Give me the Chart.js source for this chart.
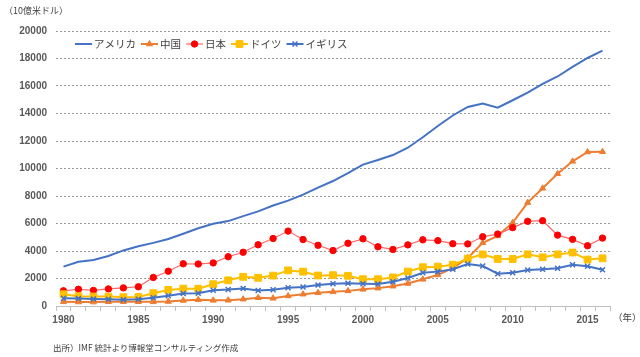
<!DOCTYPE html>
<html><head><meta charset="utf-8">
<script src="https://cdn.jsdelivr.net/npm/chart.js@4"></script>
<style>
html,body{margin:0;padding:0;background:#fff;}
#wrap{position:relative;width:640px;height:357px;overflow:hidden;}
canvas{position:absolute;left:0;top:0;}
.t{position:absolute;font-family:"Noto Sans CJK JP";color:#404040;white-space:nowrap;line-height:1;}
</style></head><body>
<div id="wrap">
<canvas id="c" width="640" height="357"></canvas>
<div class="t" style="left:4px;top:6px;font-size:9px;">（10億米ドル）</div>
<div class="t" style="left:613px;top:313px;font-size:9.5px;">（年）</div>
<div class="t" style="left:53px;top:343px;font-size:8.5px;">出所）IMF 統計より博報堂コンサルティング作成</div>
</div>
<script>
const years = [1980,1981,1982,1983,1984,1985,1986,1987,1988,1989,1990,1991,1992,1993,1994,1995,1996,1997,1998,1999,2000,2001,2002,2003,2004,2005,2006,2007,2008,2009,2010,2011,2012,2013,2014,2015,2016];
const seriesNames = ['アメリカ','中国','日本','ドイツ','イギリス'];
const usa = [2863,3211,3345,3638,4041,4347,4590,4870,5253,5658,5980,6174,6539,6879,7309,7664,8100,8609,9089,9661,10285,10622,10978,11511,12275,13094,13856,14478,14719,14419,14964,15518,16155,16692,17393,18037,18569];
const china = [305,290,284,306,314,310,301,327,407,456,410,420,495,600,560,735,860,960,1030,1100,1210,1300,1440,1640,1940,2260,2750,3500,4600,5100,6060,7520,8560,9620,10520,11200,11220];
const japan = [1105,1218,1134,1243,1318,1398,2078,2532,3072,3054,3133,3584,3909,4454,4907,5449,4834,4415,4033,4562,4887,4304,4115,4445,4815,4755,4530,4515,5037,5231,5700,6157,6203,5156,4848,4383,4939];
const germany = [854,709,689,685,641,655,933,1170,1263,1255,1585,1870,2124,2052,2211,2588,2497,2217,2243,2196,1950,1951,2079,2506,2820,2862,3002,3440,3752,3418,3417,3758,3544,3753,3890,3375,3467];
const uk = [565,540,515,489,461,489,601,745,910,926,1150,1200,1280,1130,1180,1330,1380,1520,1620,1650,1620,1600,1770,2040,2420,2500,2670,3050,2910,2350,2420,2620,2670,2740,3000,2890,2630];
const yTicksMax = 20000, yTickStep = 2000;

const floatLegend = {
  id: 'floatLegend',
  afterDraw(chart) {
    const ctx = chart.ctx;
    let x = 75; const y = 44;
    ctx.save();
    ctx.font = '10.5px "Noto Sans CJK JP"';
    ctx.textBaseline = 'middle';
    chart.data.datasets.forEach(ds => {
      ctx.setLineDash([]);
      ctx.strokeStyle = ds.borderColor;
      ctx.lineWidth = ds.borderWidth;
      ctx.beginPath(); ctx.moveTo(x, y); ctx.lineTo(x + 17, y); ctx.stroke();
      if (ds.pointRadius > 0 && Chart.helpers && Chart.helpers.drawPoint) {
        ctx.fillStyle = ds.pointBackgroundColor;
        ctx.strokeStyle = ds.pointBorderColor;
        ctx.lineWidth = ds.pointBorderWidth;
        Chart.helpers.drawPoint(ctx, {pointStyle: ds.pointStyle, radius: ds.pointRadius, borderWidth: ds.pointBorderWidth, rotation: 0}, x + 8.5, y);
      }
      x += 19;
      ctx.fillStyle = '#404040';
      ctx.fillText(ds.label, x, y + 0.5);
      x += ctx.measureText(ds.label).width + 5;
    });
    ctx.restore();
  }
};

function mk(label, data, color, lineColor, style, radius, bw, pbw, order) {
  return {label, data, borderColor: lineColor, backgroundColor: color, borderWidth: bw,
    pointStyle: style, pointRadius: radius, pointBackgroundColor: color, pointBorderColor: color,
    pointBorderWidth: pbw, tension: 0, fill: false, order};
}

new Chart(document.getElementById('c'), {
  type: 'line',
  data: {
    labels: years.map(String),
    datasets: [
      mk(seriesNames[0], usa, '#4472C4', '#4472C4', 'circle', 0, 2, 0, 5),
      mk(seriesNames[1], china, '#ED7D31', '#ED7D31', 'triangle', 3.5, 2, 1, 4),
      mk(seriesNames[2], japan, '#FF0000', '#FF6666', 'circle', 3.2, 1.2, 1, 3),
      mk(seriesNames[3], germany, '#FFC000', '#FFC000', 'rect', 4.8, 2, 1, 2),
      mk(seriesNames[4], uk, '#4472C4', '#4472C4', 'crossRot', 3.5, 2, 1.5, 1)
    ]
  },
  options: {
    responsive: false, animation: false, devicePixelRatio: 1,
    layout: {padding: {top: 31, right: 30, left: 0, bottom: 0}},
    plugins: {legend: {display: false}, tooltip: {enabled: false}},
    scales: {
      x: {
        offset: true,
        grid: {offset: true, drawOnChartArea: false, drawTicks: true, tickLength: 5, color: '#bfbfbf'},
        border: {display: true, color: '#bfbfbf', width: 1},
        ticks: {autoSkip: false, maxRotation: 0, minRotation: 0, padding: 3, color: '#595959',
          font: {family: '"Liberation Sans"', size: 10, weight: 'bold'},
          callback: function(v, i) { const yv = years[i]; return yv % 5 === 0 ? String(yv) : ''; }},
        afterFit(s) { s.height = 51; }
      },
      y: {
        min: 0, max: yTicksMax,
        ticks: {stepSize: yTickStep, padding: 9, color: '#595959',
          font: {family: '"Liberation Sans"', size: 10, weight: 'bold'},
          callback: function(v) { return String(v); }},
        grid: {color: '#999999', drawTicks: false, lineWidth: 1},
        border: {display: false, dash: [2, 2]},
        afterFit(s) { s.width = 56; }
      }
    }
  },
  plugins: [floatLegend]
});
</script>
</body></html>
